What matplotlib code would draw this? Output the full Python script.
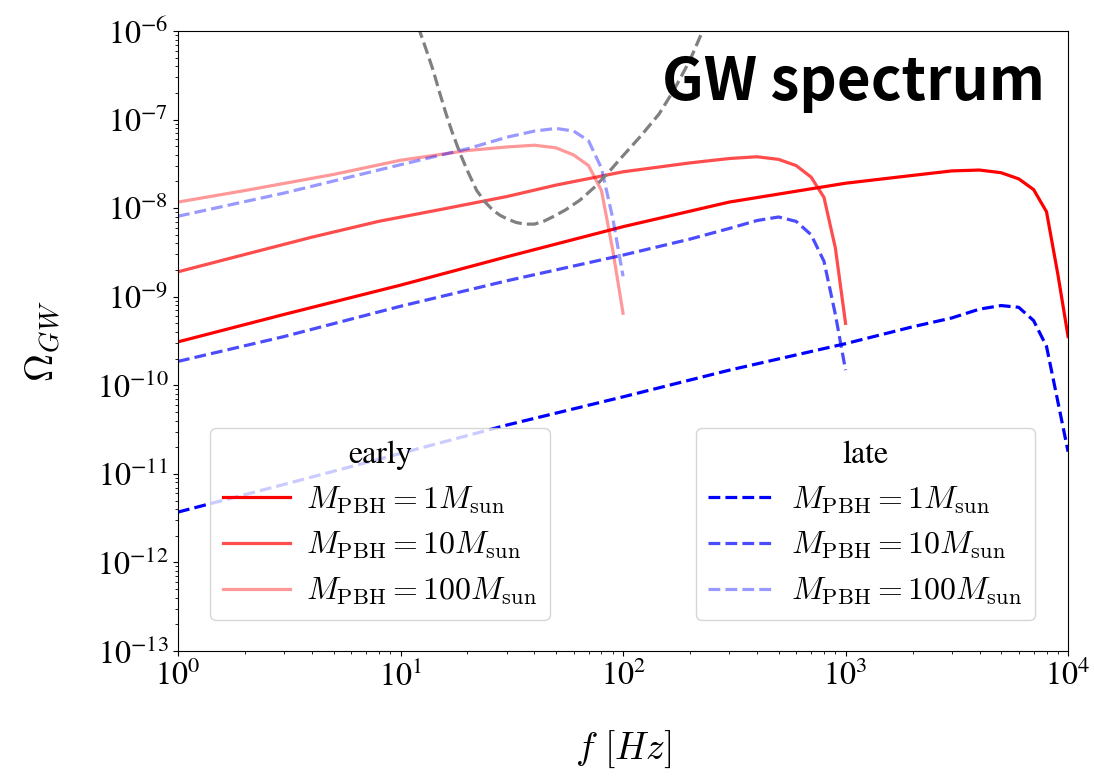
import matplotlib
matplotlib.use("Agg")
import matplotlib.pyplot as plt
from matplotlib.font_manager import FontProperties

plt.rcParams['font.family'] = 'STIXGeneral'
plt.rcParams['mathtext.fontset'] = 'stix'

# early-time spectra (solid red)
f_e1 = [1, 3, 10, 30, 100, 300, 1000, 2000, 3000, 4000, 5000, 6000, 7000, 8000, 9000, 10000]
om_e1 = [3.09e-10, 6.31e-10, 1.35e-9, 2.82e-9, 6.17e-9, 1.17e-8, 1.91e-8, 2.34e-8, 2.63e-8,
         2.69e-8, 2.51e-8, 2.14e-8, 1.62e-8, 9.1e-9, 1.78e-9, 3.55e-10]

f_e10 = [1, 2, 4, 8, 15, 30, 50, 100, 200, 300, 400, 500, 600, 700, 800, 900, 1000]
om_e10 = [1.91e-9, 3.0e-9, 4.7e-9, 7.1e-9, 9.6e-9, 1.35e-8, 1.82e-8, 2.57e-8, 3.24e-8,
          3.63e-8, 3.80e-8, 3.55e-8, 3.02e-8, 2.24e-8, 1.32e-8, 3.55e-9, 5.0e-10]

f_e100 = [1, 2, 5, 10, 20, 30, 40, 50, 60, 70, 80, 90, 100]
om_e100 = [1.17e-8, 1.58e-8, 2.40e-8, 3.47e-8, 4.47e-8, 4.90e-8, 5.13e-8, 4.79e-8, 3.98e-8,
           3.02e-8, 1.58e-8, 3.3e-9, 6.5e-10]

# late-time spectra (dashed blue)
f_l1 = [1, 3, 10, 30, 100, 300, 1000, 2000, 3000, 4000, 5000, 6000, 7000, 8000, 9000, 10000]
om_l1 = [3.7e-12, 7.6e-12, 1.7e-11, 3.55e-11, 7.4e-11, 1.48e-10, 2.95e-10, 4.57e-10, 5.75e-10,
         7.24e-10, 7.94e-10, 7.59e-10, 5.37e-10, 2.75e-10, 6.5e-11, 1.78e-11]

f_l10 = [1, 3, 10, 30, 100, 200, 300, 400, 500, 600, 700, 800, 900, 1000]
om_l10 = [1.86e-10, 3.55e-10, 7.8e-10, 1.51e-9, 2.95e-9, 4.47e-9, 5.89e-9, 7.24e-9, 7.94e-9,
          7.08e-9, 5.01e-9, 2.51e-9, 6.3e-10, 1.48e-10]

f_l100 = [1, 3, 10, 20, 30, 40, 50, 60, 70, 80, 90, 100]
om_l100 = [8.1e-9, 1.48e-8, 3.09e-8, 4.68e-8, 6.31e-8, 7.41e-8, 7.94e-8, 7.41e-8, 5.75e-8,
           2.82e-8, 7.6e-9, 1.7e-9]

# detector sensitivity curve (gray dashed)
f_sens = [12, 13, 14, 15, 16, 17, 18.5, 20, 22, 24, 26, 28, 30, 33, 36, 40, 44, 48, 55, 64,
          74, 85, 100, 120, 145, 170, 200, 225, 240]
om_sens = [1.12e-6, 6.3e-7, 3.63e-7, 2.0e-7, 1.17e-7, 7.4e-8, 4.17e-8, 2.63e-8, 1.58e-8,
           1.17e-8, 9.5e-9, 8.3e-9, 7.6e-9, 6.9e-9, 6.6e-9, 6.6e-9, 7.1e-9, 7.9e-9, 9.5e-9,
           1.23e-8, 1.70e-8, 2.45e-8, 3.9e-8, 6.5e-8, 1.15e-7, 2.19e-7, 4.7e-7, 9.3e-7, 1.41e-6]

labels = [r'$M_{\rm PBH}=1M_{\rm sun}$', r'$M_{\rm PBH}=10M_{\rm sun}$', r'$M_{\rm PBH}=100M_{\rm sun}$']
alphas = [1.0, 0.7, 0.4]

fig = plt.figure(figsize=(10.94, 7.8), dpi=100)
ax = fig.add_axes([0.1627, 0.1654, 0.8136, 0.7949])

lw = 2.3
early = []
for (f, om), a, lab in zip([(f_e1, om_e1), (f_e10, om_e10), (f_e100, om_e100)], alphas, labels):
    l, = ax.plot(f, om, color='red', alpha=a, lw=lw, label=lab)
    early.append(l)
late = []
for (f, om), a, lab in zip([(f_l1, om_l1), (f_l10, om_l10), (f_l100, om_l100)], alphas, labels):
    l, = ax.plot(f, om, color='blue', alpha=a, lw=lw, ls='--', label=lab)
    late.append(l)
ax.plot(f_sens, om_sens, color='gray', lw=lw, ls='--')

ax.set_xscale('log')
ax.set_yscale('log')
ax.set_xlim(1, 1e4)
ax.set_ylim(1e-13, 1e-6)
ax.tick_params(labelsize=23)

ax.set_xlabel(r'$f\ [Hz]$', fontsize=27, labelpad=26, math_fontfamily='cm')
ax.set_ylabel(r'$\Omega_{GW}$', fontsize=28, labelpad=24, math_fontfamily='cm')

ax.text(0.974, 0.916, 'GW spectrum', transform=ax.transAxes, ha='right', va='center',
        fontsize=42, fontweight='bold', family=['Noto Sans CJK KR', 'DejaVu Sans'])

prop = FontProperties(size=23, math_fontfamily='cm')
kw = dict(borderaxespad=0, prop=prop, title_fontsize=23, handlelength=2.1,
          handletextpad=0.5, labelspacing=0.45)
leg1 = ax.legend(handles=early, title='early', loc='lower left', bbox_to_anchor=(0.036, 0.05), **kw)
ax.add_artist(leg1)
ax.legend(handles=late, title='late', loc='lower right', bbox_to_anchor=(0.963, 0.05), **kw)

plt.savefig('out.png', dpi=100)
